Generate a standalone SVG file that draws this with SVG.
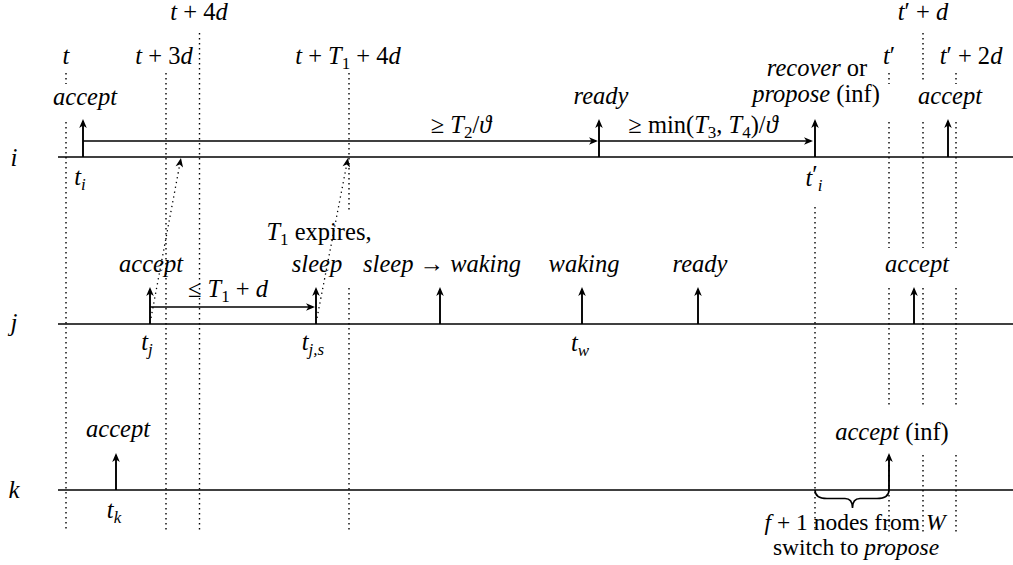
<svg xmlns="http://www.w3.org/2000/svg" width="1013" height="565" viewBox="0 0 1013 565">
<style>
.bg{fill:#fff}
.tl{stroke:#000;stroke-width:1.6;fill:none}
.ev{stroke:#000;stroke-width:1.9;fill:none;marker-end:url(#ah)}
.hz{stroke:#000;stroke-width:1.4;fill:none;marker-end:url(#ah)}
.gd{stroke:#000;stroke-width:1.4;stroke-dasharray:1.4 3.6;fill:none}
.da{stroke:#000;stroke-width:1.3;stroke-dasharray:1.3 3.6;fill:none;marker-end:url(#ah)}
.br{stroke:#000;stroke-width:1.6;fill:none}
text{font-family:'Liberation Serif','Times New Roman',serif;font-size:24.5px;fill:#000;text-anchor:middle}
.it{font-style:italic}
.sub{font-size:17px}
.ax{font-size:25px;font-style:italic}
.sm{font-size:23.5px}
</style>
<defs>
<marker id="ah" viewBox="-11 -5 13 10" refX="-2" refY="0" markerWidth="13" markerHeight="10" orient="auto" markerUnits="userSpaceOnUse">
<path d="M0,0 L-9,-3.8 L-6.5,0 L-9,3.8 Z" fill="#000"/>
</marker>
</defs>
<rect class="bg" x="0" y="0" width="1013" height="565"/>

<g id="timelines">
<path class="tl" d="M58 157 H1013"/>
<path class="tl" d="M58 324 H1013"/>
<path class="tl" d="M58 490 H1013"/>
<text class="ax" x="14" y="166">i</text>
<text class="ax" x="14" y="331">j</text>
<text class="ax" x="14" y="498">k</text>
</g>

<g id="guides">
<path class="gd" d="M66 73 V84 M66 122 V532"/>
<path class="gd" d="M166 73 V532"/>
<path class="gd" d="M199.5 33 V532"/>
<path class="gd" d="M349 73 V213 M349 288 V532"/>
<path class="gd" d="M815 207 V532"/>
<path class="gd" d="M889 73 V84 M889 122 V248 M889 288 V407 M889 455 V532"/>
<path class="gd" d="M923 33 V82 M923 122 V248 M923 288 V407 M923 455 V532"/>
<path class="gd" d="M956 73 V84 M956 122 V248 M956 288 V407 M956 455 V532"/>
</g>

<g id="time-labels">
<text x="199" y="20"><tspan class="it">t</tspan> + 4<tspan class="it">d</tspan></text>
<text class="it" x="66" y="64">t</text>
<text x="164" y="64"><tspan class="it">t</tspan> + 3<tspan class="it">d</tspan></text>
<text x="348" y="64"><tspan class="it">t</tspan> + <tspan class="it">T</tspan><tspan class="sub" dy="5">1</tspan><tspan dy="-5"> + 4</tspan><tspan class="it">d</tspan></text>
<text x="923" y="20"><tspan class="it">t</tspan>′ + <tspan class="it">d</tspan></text>
<text x="889" y="64"><tspan class="it">t</tspan>′</text>
<text x="971" y="64"><tspan class="it">t</tspan>′ + 2<tspan class="it">d</tspan></text>
</g>

<g id="connectors">
<path class="ev" d="M83 157 V121"/>
<path class="ev" d="M599 157 V121"/>
<path class="ev" d="M815 157 V121"/>
<path class="ev" d="M948 157 V121"/>
<path class="ev" d="M150 324 V289"/>
<path class="ev" d="M316 324 V289"/>
<path class="ev" d="M440 324 V289"/>
<path class="ev" d="M582 324 V289"/>
<path class="ev" d="M698 324 V289"/>
<path class="ev" d="M914 324 V289"/>
<path class="ev" d="M116 490 V455"/>
<path class="ev" d="M889 490 V455"/>
<path class="hz" d="M83 141 H596"/>
<path class="hz" d="M599 141 H811"/>
<path class="hz" d="M150 307 H313"/>
<path class="da" d="M151 318 L180.6 160"/>
<path class="da" d="M317 318 L347.6 160"/>
<path class="br" d="M815 490 C815 496 820 498.5 827 498.5 L845 498.5 C850 498.5 852.5 502 852.5 508 C852.5 502 855 498.5 860 498.5 L877 498.5 C884 498.5 889 496 889 490"/>
</g>

<g id="node-i">
<text class="it" x="85" y="105">accept</text>
<text x="461" y="133">≥ <tspan class="it">T</tspan><tspan class="sub" dy="5">2</tspan><tspan dy="-5">/</tspan><tspan class="it">ϑ</tspan></text>
<text class="it" x="601" y="104">ready</text>
<text x="703" y="133">≥ min(<tspan class="it">T</tspan><tspan class="sub" dy="5">3</tspan><tspan dy="-5">, </tspan><tspan class="it">T</tspan><tspan class="sub" dy="5">4</tspan><tspan dy="-5">)/</tspan><tspan class="it">ϑ</tspan></text>
<text x="817" y="76"><tspan class="it">recover</tspan> or</text>
<text x="816" y="102"><tspan class="it">propose</tspan> (inf)</text>
<text class="it" x="950" y="104">accept</text>
<text x="80" y="185"><tspan class="it">t</tspan><tspan class="sub it" dy="5">i</tspan></text>
<text x="814" y="186"><tspan class="it">t</tspan><tspan dy="-3">′</tspan><tspan class="sub it" dy="8">i</tspan></text>
</g>

<g id="node-j">
<text x="319" y="240"><tspan class="it">T</tspan><tspan class="sub" dy="5">1</tspan><tspan dy="-5"> expires,</tspan></text>
<text class="it" x="151" y="272">accept</text>
<text class="it" x="317" y="272">sleep</text>
<text x="442" y="272"><tspan class="it">sleep</tspan> → <tspan class="it">waking</tspan></text>
<text class="it" x="584" y="272">waking</text>
<text class="it" x="700" y="272">ready</text>
<text class="it" x="917" y="272">accept</text>
<text x="228" y="297">≤ <tspan class="it">T</tspan><tspan class="sub" dy="5">1</tspan><tspan dy="-5"> + </tspan><tspan class="it">d</tspan></text>
<text x="147" y="350"><tspan class="it">t</tspan><tspan class="sub it" dy="5">j</tspan></text>
<text x="313" y="350"><tspan class="it">t</tspan><tspan class="sub it" dy="5">j,s</tspan></text>
<text x="580" y="351"><tspan class="it">t</tspan><tspan class="sub it" dy="5">w</tspan></text>
</g>

<g id="node-k">
<text class="it" x="118" y="437">accept</text>
<text x="892" y="440"><tspan class="it">accept</tspan> (inf)</text>
<text x="114" y="518"><tspan class="it">t</tspan><tspan class="sub it" dy="5">k</tspan></text>
<text class="sm" x="855" y="530"><tspan class="it">f</tspan> + 1 nodes from <tspan class="it">W</tspan></text>
<text class="sm" x="856" y="555">switch to <tspan class="it">propose</tspan></text>
</g>
</svg>
